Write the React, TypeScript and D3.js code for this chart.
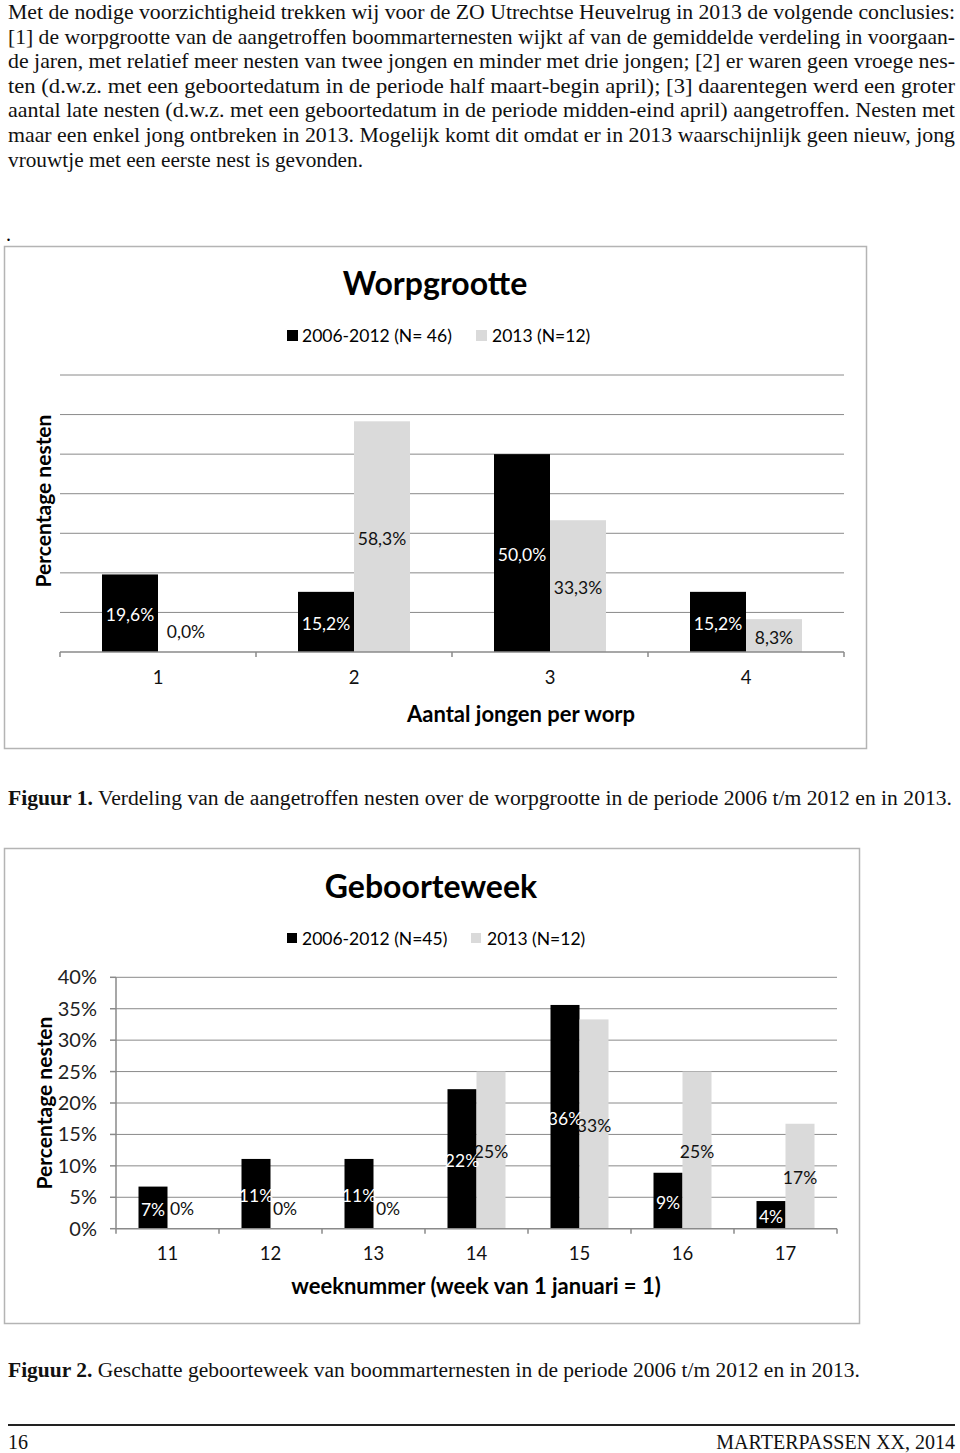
import React from "react";
import * as d3 from "d3";

// ---------- data ----------
const bodyLines = [
  "Met de nodige voorzichtigheid trekken wij voor de ZO Utrechtse Heuvelrug in 2013 de volgende conclusies:",
  "[1] de worpgrootte van de aangetroffen boommarternesten wijkt af van de gemiddelde verdeling in voorgaan-",
  "de jaren, met relatief meer nesten van twee jongen en minder met drie jongen; [2] er waren geen vroege nes-",
  "ten (d.w.z. met een geboortedatum in de periode half maart-begin april); [3] daarentegen werd een groter",
  "aantal late nesten (d.w.z. met een geboortedatum in de periode midden-eind april) aangetroffen. Nesten met",
  "maar een enkel jong ontbreken in 2013. Mogelijk komt dit omdat er in 2013 waarschijnlijk geen nieuw, jong",
  "vrouwtje met een eerste nest is gevonden.",
];

const litterCats = ["1", "2", "3", "4"];
const litterSeries = ["2006-2012 (N= 46)", "2013 (N=12)"];
const litterOld = [19.6, 15.2, 50.0, 15.2];
const litterNew = [0.0, 58.3, 33.3, 8.3];

const weekCats = ["11", "12", "13", "14", "15", "16", "17"];
const weekSeries = ["2006-2012 (N=45)", "2013 (N=12)"];
const weekOld = [6.7, 11.1, 11.1, 22.2, 35.6, 8.9, 4.4];
const weekNew = [0, 0, 0, 25.0, 33.3, 25.0, 16.7];
const weekTicks = [0, 5, 10, 15, 20, 25, 30, 35, 40];

const caption1 = ["Figuur 1.", " Verdeling van de aangetroffen nesten over de worpgrootte in de periode 2006 t/m 2012 en in 2013."];
const caption2 = ["Figuur 2.", " Geschatte geboorteweek van boommarternesten in de periode 2006 t/m 2012 en in 2013."];

const COLORS = ["#000000", "#dadada"];
const SANS = "Lato, 'Open Sans', sans-serif";
const SERIF = "'Liberation Serif', 'DejaVu Serif', serif";
const GRID = "#8a8a8a";

function LitterChart() {
  const x0 = d3.scaleBand<string>().domain(litterCats).range([60, 844]).paddingInner(84 / 196).paddingOuter(42 / 196);
  const x1 = d3.scaleBand<number>().domain([0, 1]).range([0, x0.bandwidth()]);
  const y = d3.scaleLinear().domain([0, 70]).range([652, 375]);
  const grid = d3.range(10, 71, 10);
  const bounds = d3.range(0, litterCats.length + 1).map((i) => 60 + i * x0.step());
  const series = [litterOld, litterNew];
  const fmt = (v: number) => v.toFixed(1).replace(".", ",") + "%";
  return (
    <g>
      <rect x={4.5} y={246.5} width={862} height={502} fill="#fff" stroke="#b4b4b4" strokeWidth={1.5} />
      <text x={435} y={295} textAnchor="middle" fontFamily={SANS} fontWeight="bold" fontSize={32}>Worpgrootte</text>
      <rect x={287} y={330} width={11} height={11} fill={COLORS[0]} />
      <text x={302} y={342} fontFamily={SANS} fontSize={17.5}>{litterSeries[0]}</text>
      <rect x={476} y={330} width={11} height={11} fill={COLORS[1]} />
      <text x={492} y={342} fontFamily={SANS} fontSize={17.5}>{litterSeries[1]}</text>
      {grid.map((g) => (
        <line key={g} x1={60} x2={844} y1={y(g)} y2={y(g)} stroke={GRID} strokeWidth={1} />
      ))}
      {series.map((vals, s) =>
        vals.map((v, i) => (
          <rect key={s + "-" + i} x={x0(litterCats[i])! + x1(s)!} y={y(v)} width={x1.bandwidth()} height={y(0) - y(v)} fill={COLORS[s]} />
        ))
      )}
      <line x1={60} x2={844} y1={y(0)} y2={y(0)} stroke={GRID} strokeWidth={1.5} />
      {bounds.map((b, i) => (
        <line key={i} x1={b} x2={b} y1={y(0)} y2={y(0) + 5} stroke={GRID} strokeWidth={1.5} />
      ))}
      {series.map((vals, s) =>
        vals.map((v, i) => (
          <text key={"l" + s + "-" + i} x={x0(litterCats[i])! + x1(s)! + x1.bandwidth() / 2} y={v === 0 ? y(0) - 20 : (y(v) + y(0)) / 2 + 2}
            dy="0.35em" textAnchor="middle" fontFamily={SANS} fontSize={17.5} fill={s === 0 ? "#fff" : "#111"}>{fmt(v)}</text>
        ))
      )}
      {litterCats.map((c) => (
        <text key={c} x={x0(c)! + x0.bandwidth() / 2} y={678} dy="0.35em" textAnchor="middle" fontFamily={SANS} fontSize={18.5} fill="#111">{c}</text>
      ))}
      <text x={521} y={714} dy="0.35em" textAnchor="middle" fontFamily={SANS} fontWeight="bold" fontSize={22}>Aantal jongen per worp</text>
      <text transform="translate(44,501) rotate(-90)" dy="0.35em" textAnchor="middle" fontFamily={SANS} fontWeight="bold" fontSize={21}>Percentage nesten</text>
    </g>
  );
}

function WeekChart() {
  const x0 = d3.scaleBand<string>().domain(weekCats).range([116, 837]).paddingInner(45 / 103).paddingOuter(22.5 / 103);
  const x1 = d3.scaleBand<number>().domain([0, 1]).range([0, x0.bandwidth()]);
  const y = d3.scaleLinear().domain([0, 40]).range([1228.7, 977.3]);
  const bounds = d3.range(0, weekCats.length + 1).map((i) => 116 + i * x0.step());
  const series = [weekOld, weekNew];
  const fmt = (v: number) => Math.round(v) + "%";
  return (
    <g>
      <rect x={4.5} y={848.5} width={855} height={475} fill="#fff" stroke="#b4b4b4" strokeWidth={1.5} />
      <text x={431} y={898} textAnchor="middle" fontFamily={SANS} fontWeight="bold" fontSize={32}>Geboorteweek</text>
      <rect x={287} y={933} width={10} height={10} fill={COLORS[0]} />
      <text x={302} y={945} fontFamily={SANS} fontSize={17.5}>{weekSeries[0]}</text>
      <rect x={471} y={933} width={10} height={10} fill={COLORS[1]} />
      <text x={487} y={945} fontFamily={SANS} fontSize={17.5}>{weekSeries[1]}</text>
      {weekTicks.filter((t) => t > 0).map((g) => (
        <line key={g} x1={116} x2={837} y1={y(g)} y2={y(g)} stroke={GRID} strokeWidth={1} />
      ))}
      {series.map((vals, s) =>
        vals.map((v, i) => (
          <rect key={s + "-" + i} x={x0(weekCats[i])! + x1(s)!} y={y(v)} width={x1.bandwidth()} height={y(0) - y(v)} fill={COLORS[s]} />
        ))
      )}
      <line x1={116} x2={837} y1={y(0)} y2={y(0)} stroke={GRID} strokeWidth={1.5} />
      <line x1={116} x2={116} y1={y(40)} y2={y(0)} stroke={GRID} strokeWidth={1.5} />
      {bounds.map((b, i) => (
        <line key={i} x1={b} x2={b} y1={y(0)} y2={y(0) + 5} stroke={GRID} strokeWidth={1.5} />
      ))}
      {weekTicks.map((t) => (
        <g key={"t" + t}>
          <line x1={110} x2={116} y1={y(t)} y2={y(t)} stroke={GRID} strokeWidth={1.5} />
          <text x={97} y={y(t)} dy="0.35em" textAnchor="end" fontFamily={SANS} fontSize={20} fill="#222">{t + "%"}</text>
        </g>
      ))}
      {series.map((vals, s) =>
        vals.map((v, i) => (
          <text key={"l" + s + "-" + i} x={x0(weekCats[i])! + x1(s)! + x1.bandwidth() / 2} y={v === 0 ? y(0) - 20 : (y(v) + y(0)) / 2 + 2}
            dy="0.35em" textAnchor="middle" fontFamily={SANS} fontSize={17.5} fill={s === 0 ? "#fff" : "#111"}>{fmt(v)}</text>
        ))
      )}
      {weekCats.map((c) => (
        <text key={c} x={x0(c)! + x0.bandwidth() / 2} y={1254} dy="0.35em" textAnchor="middle" fontFamily={SANS} fontSize={18.5} fill="#111">{c}</text>
      ))}
      <text x={476} y={1286} dy="0.35em" textAnchor="middle" fontFamily={SANS} fontWeight="bold" fontSize={22}>weeknummer (week van 1 januari = 1)</text>
      <text transform="translate(45,1103) rotate(-90)" dy="0.35em" textAnchor="middle" fontFamily={SANS} fontWeight="bold" fontSize={21}>Percentage nesten</text>
    </g>
  );
}

export default function App() {
  const lineWidths = [947, 947, 947, 947, 947, 947, 355];
  return (
    <svg width={960} height={1453} viewBox="0 0 960 1453" style={{ position: "absolute", left: 0, top: 0, background: "#fff" }}>
      <rect x={0} y={0} width={960} height={1453} fill="#fff" />
      {bodyLines.map((l, i) => (
        <text key={i} x={8} y={19 + i * 24.6} fontFamily={SERIF} fontSize={21} textLength={lineWidths[i]} lengthAdjust="spacingAndGlyphs" fill="#111">{l}</text>
      ))}
      <text x={6} y={241} fontFamily={SERIF} fontSize={20}>.</text>
      <LitterChart />
      <text x={8} y={805} fontFamily={SERIF} fontSize={20} textLength={944} lengthAdjust="spacingAndGlyphs" fill="#111">
        <tspan fontWeight="bold">{caption1[0]}</tspan>
        <tspan>{caption1[1]}</tspan>
      </text>
      <WeekChart />
      <text x={8} y={1377} fontFamily={SERIF} fontSize={20} textLength={852} lengthAdjust="spacingAndGlyphs" fill="#111">
        <tspan fontWeight="bold">{caption2[0]}</tspan>
        <tspan>{caption2[1]}</tspan>
      </text>
      <line x1={8} x2={955} y1={1425} y2={1425} stroke="#222" strokeWidth={2} />
      <text x={8} y={1449} fontFamily={SERIF} fontSize={20} fill="#111">16</text>
      <text x={955} y={1449} textAnchor="end" fontFamily={SERIF} fontSize={20} fill="#111">MARTERPASSEN XX, 2014</text>
    </svg>
  );
}
